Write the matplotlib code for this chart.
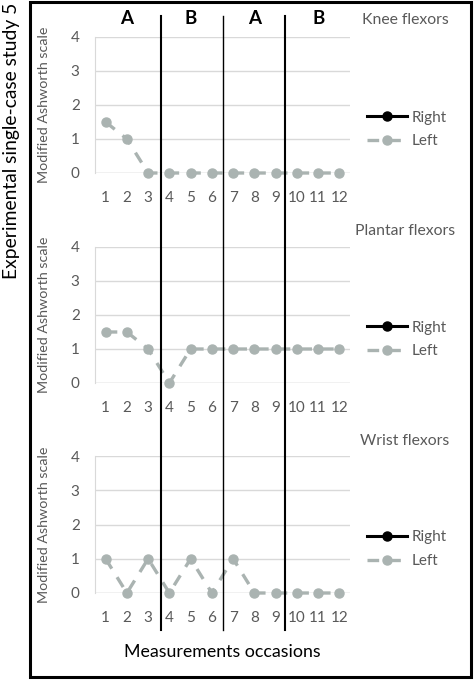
import numpy as np
import matplotlib.pyplot as plt
from matplotlib.lines import Line2D
from matplotlib.patches import Rectangle

plt.rcParams['font.family'] = ['Lato', 'DejaVu Sans']

# dane
occasions = list(range(1, 13))
muscles = ["Knee flexors", "Plantar flexors", "Wrist flexors"]
left_knee = [1.5, 1, 0, 0, 0, 0, 0, 0, 0, 0, 0, 0]
left_plantar = [1.5, 1.5, 1, 0, 1, 1, 1, 1, 1, 1, 1, 1]
left_wrist = [1, 0, 1, 0, 1, 0, 1, 0, 0, 0, 0, 0]
right_knee = [np.nan] * 12
right_plantar = [np.nan] * 12
right_wrist = [np.nan] * 12
phases = ["A", "B", "A", "B"]
phase_centers = [2, 5, 8, 11]
phase_breaks = [3.6, 6.5, 9.45]
y_ticks = [0, 1, 2, 3, 4]

left_series = [left_knee, left_plantar, left_wrist]
right_series = [right_knee, right_plantar, right_wrist]

W, H = 474, 680
fig = plt.figure(figsize=(W / 100, H / 100), dpi=100)

gray = "#AAB3B1"
grid_c = "#D9D9D9"
text_c = "#595959"

# pozycje paneli (piksele: y dla 0 i 4)
panel_px = [(173, 37), (383, 247), (593, 456)]
title_y = [20, 231, 441]
legend_y = [129.5, 339.5, 549]

axes = []
for i, (y0, y4) in enumerate(panel_px):
    ax = fig.add_axes([95 / W, 1 - y0 / H, 255 / W, (y0 - y4) / H])
    ax.set_xlim(0.5, 12.5)
    ax.set_ylim(0, 4)
    ax.set_xticks(occasions)
    ax.set_yticks(y_ticks)
    ax.tick_params(length=0, labelsize=11, colors=text_c, pad=11)
    ax.tick_params(axis='x', pad=13)
    for s in ["top", "right", "bottom"]:
        ax.spines[s].set_visible(False)
    ax.spines["left"].set_color(grid_c)
    ax.yaxis.grid(True, color=grid_c, lw=1)
    ax.set_axisbelow(True)
    ax.axhline(0, color=grid_c, lw=1, zorder=0)

    ax.plot(occasions, right_series[i], color="black", lw=2.2, marker="o",
            ms=6.5, label="Right", clip_on=False)
    ax.plot(occasions, left_series[i], color=gray, lw=2.4, marker="o",
            ms=6.5, dashes=(3.5, 3), label="Left", clip_on=False, zorder=3)

    ax.set_ylabel("Modified Ashworth scale", fontsize=10.3, color=text_c)
    ax.yaxis.set_label_coords(-0.176, 0.5)

    fig.text(405 / W, 1 - title_y[i] / H, muscles[i], fontsize=11.3,
             color=text_c, ha="center", va="center")
    ax.legend(loc="center left", bbox_to_anchor=(367 / W, 1 - legend_y[i] / H),
              bbox_transform=fig.transFigure, frameon=False, borderpad=0,
              borderaxespad=0, fontsize=11, handlelength=2.6,
              handletextpad=0.3, labelspacing=0.65, labelcolor=text_c)
    axes.append(ax)

# fazy A/B
for p, c in zip(phases, phase_centers):
    xf = axes[0].transData.transform((c, 0))[0] / W
    fig.text(xf, 1 - 18 / H, p, fontsize=13.5, fontweight="bold",
             ha="center", va="center")

# linie podziału faz
fig.canvas.draw()
for j, b in enumerate(phase_breaks):
    xf = axes[0].transData.transform((b, 0))[0] / W
    fig.add_artist(Line2D([xf, xf], [1 - 16 / H, 1 - 630 / H], color="black",
                          lw=1.0 if j == 1 else 1.5, transform=fig.transFigure))

# ramka
fig.add_artist(Rectangle((30 / W, 3 / H), 441 / W, 1 - 4.5 / H, fill=False,
                         lw=2.2, edgecolor="black", transform=fig.transFigure))

fig.text(222 / W, 1 - 652 / H, "Measurements occasions", fontsize=12.8,
         ha="center", va="center")
fig.text(12 / W, 1 - 141 / H, "Experimental single-case study 5", fontsize=13.9,
         rotation=90, ha="center", va="center")

fig.savefig("out.png", dpi=100)
